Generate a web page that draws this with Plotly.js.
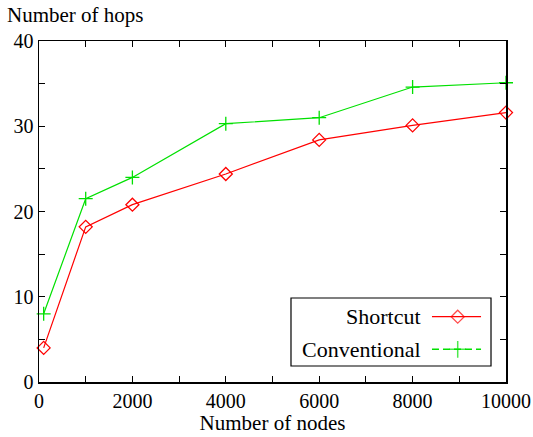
<!DOCTYPE html>
<html>
<head>
<meta charset="utf-8">
<script src="https://cdn.plot.ly/plotly-3.0.1.min.js"></script>
<style>html,body{margin:0;padding:0;background:#fff;}#chart{width:533px;height:437px;}</style>
</head>
<body>
<div id="chart"></div>
<script>
const nodes = [100, 1000, 2000, 4000, 6000, 8000, 10000];
const shortcut = [4, 18.2, 20.8, 24.4, 28.4, 30.1, 31.6];
const conventional = [8, 21.5, 24, 30.3, 31, 34.6, 35.1];
const seriesNames = ['Shortcut', 'Conventional'];
const xTitle = 'Number of nodes';
const yTitle = 'Number of hops';

const RED = '#ff0000';
const GREEN = '#00e000';
const FONT = 'Times New Roman, Liberation Serif, DejaVu Serif, Tinos, serif';

const lgX = [0.8415, 0.8966, 0.9465];
const lgY1 = 0.1915, lgY2 = 0.0959;

const traces = [
  {x: nodes, y: shortcut, name: seriesNames[0], mode: 'lines+markers',
   line: {color: RED, width: 1.2},
   marker: {symbol: 'diamond-open', size: 10, color: RED, line: {width: 1.3}},
   showlegend: false, cliponaxis: false},
  {x: nodes, y: conventional, name: seriesNames[1], mode: 'lines+markers',
   line: {color: GREEN, width: 1.2},
   marker: {symbol: 'cross-thin-open', size: 10, color: GREEN, line: {width: 1.3, color: GREEN}},
   showlegend: false, cliponaxis: false},
  {x: lgX, y: [lgY1, lgY1, lgY1], xaxis: 'x2', yaxis: 'y2', mode: 'lines+markers',
   line: {color: RED, width: 1.2},
   marker: {symbol: 'diamond-open', size: [0, 10, 0], color: RED, line: {width: 1.3}},
   showlegend: false, hoverinfo: 'skip', cliponaxis: false},
  {x: lgX, y: [lgY2, lgY2, lgY2], xaxis: 'x2', yaxis: 'y2', mode: 'lines+markers',
   line: {color: GREEN, width: 1.5, dash: '7px,4px'},
   marker: {symbol: 'cross-thin-open', size: [0, 12, 0], color: GREEN, line: {width: 1.5, color: GREEN}},
   showlegend: false, hoverinfo: 'skip', cliponaxis: false}
];

const layout = {
  width: 533, height: 437,
  margin: {l: 39, r: 27, t: 41, b: 55, pad: 0},
  paper_bgcolor: '#fff', plot_bgcolor: '#fff',
  font: {family: FONT, size: 20, color: '#000'},
  showlegend: false,
  xaxis: {
    range: [0, 10000], dtick: 2000, tick0: 0, tickformat: 'd',
    showgrid: false, zeroline: false,
    showline: true, linecolor: '#000', linewidth: 1.5, mirror: 'ticks',
    ticks: 'inside', ticklen: 6, tickwidth: 1, tickcolor: '#000',
    minor: {dtick: 1000, ticks: 'inside', ticklen: 6, tickwidth: 1, tickcolor: '#000', showgrid: false},
    tickfont: {family: FONT, size: 20},
    title: {text: xTitle, font: {family: FONT, size: 21}, standoff: 4}
  },
  yaxis: {
    range: [0, 40], dtick: 10, tick0: 0,
    showgrid: false, zeroline: false,
    showline: true, linecolor: '#000', linewidth: 1.5, mirror: 'ticks',
    ticks: 'inside', ticklen: 6, tickwidth: 1, tickcolor: '#000',
    minor: {dtick: 5, ticks: 'inside', ticklen: 6, tickwidth: 1, tickcolor: '#000', showgrid: false},
    tickfont: {family: FONT, size: 20}
  },
  xaxis2: {range: [0, 1], overlaying: 'x', visible: false, fixedrange: true},
  yaxis2: {range: [0, 1], overlaying: 'y', visible: false, fixedrange: true},
  shapes: [
    {type: 'rect', xref: 'paper', yref: 'paper', x0: 0.5396, x1: 0.9679, y0: 0.0469, y1: 0.2463,
     line: {color: '#000', width: 1.2}, fillcolor: '#fff', layer: 'below'}
  ],
  annotations: [
    {text: yTitle, xref: 'paper', yref: 'paper', x: 0, y: 1, xanchor: 'left', yanchor: 'middle',
     xshift: -34, yshift: 26, showarrow: false, font: {family: FONT, size: 21}},
    {text: seriesNames[0], xref: 'paper', yref: 'paper', x: 0.8223, y: lgY1, xanchor: 'right', yanchor: 'middle',
     showarrow: false, font: {family: FONT, size: 22}},
    {text: seriesNames[1], xref: 'paper', yref: 'paper', x: 0.8223, y: lgY2, xanchor: 'right', yanchor: 'middle',
     showarrow: false, font: {family: FONT, size: 22}}
  ]
};

Plotly.newPlot('chart', traces, layout, {displayModeBar: false, staticPlot: true});
</script>
</body>
</html>
